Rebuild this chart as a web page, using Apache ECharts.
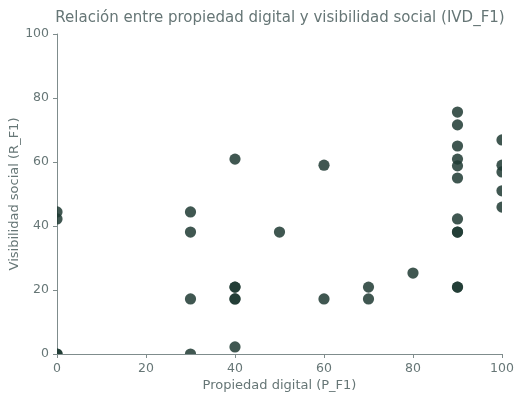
<!DOCTYPE html>
<html>
<head>
<meta charset="utf-8">
<script src="https://cdn.jsdelivr.net/npm/echarts@6/dist/echarts.min.js"></script>
<style>
html, body { margin: 0; padding: 0; background: #fff; }
#chart { width: 523px; height: 400px; }
</style>
</head>
<body>
<div id="chart"></div>
<script>
// datos
var propiedad = [0, 0, 0, 0,
    30, 30, 30, 30,
    40, 40, 40, 40, 40, 40,
    50,
    60, 60,
    70, 70,
    80,
    90, 90, 90, 90, 90, 90, 90, 90, 90, 90, 90,
    100, 100, 100, 100, 100];
var visibilidad = [44.4, 42.2, 0, 0,
    44.4, 38.1, 17.2, 0,
    60.9, 20.9, 20.9, 17.2, 17.2, 2.2,
    38.1,
    59, 17.2,
    20.9, 17.2,
    25.3,
    75.6, 71.6, 65, 60.9, 58.8, 55, 42.2, 38.1, 38.1, 20.9, 20.9,
    66.9, 59, 56.9, 51, 45.9];
var ticks = [0, 20, 40, 60, 80, 100];

var textColor = '#667676';
var axisColor = '#7f8c8c';

var puntos = propiedad.map(function (p, i) { return [p, visibilidad[i]]; });

var chart = echarts.init(document.getElementById('chart'));
chart.setOption({
    backgroundColor: '#fff',
    textStyle: { fontFamily: 'DejaVu Sans' },
    title: {
        text: 'Relación entre propiedad digital y visibilidad social (IVD_F1)',
        left: 275,
        textAlign: 'center',
        top: 6,
        textStyle: { color: textColor, fontSize: 15, fontWeight: 'normal', fontFamily: 'DejaVu Sans' }
    },
    grid: { left: 57, right: 21, top: 34, bottom: 46, containLabel: false, outerBoundsMode: 'none' },
    xAxis: {
        type: 'value',
        min: ticks[0],
        max: ticks[ticks.length - 1],
        interval: 20,
        name: 'Propiedad digital (P_F1)',
        nameLocation: 'middle',
        nameGap: 25,
        nameMoveOverlap: false,
        nameTextStyle: { color: textColor, fontSize: 13 },
        axisLine: { show: true, lineStyle: { color: axisColor, width: 1 } },
        axisTick: { show: true, length: 4, lineStyle: { color: axisColor } },
        axisLabel: { color: textColor, fontSize: 12.5, margin: 8 },
        splitLine: { show: false }
    },
    yAxis: {
        type: 'value',
        min: ticks[0],
        max: ticks[ticks.length - 1],
        interval: 20,
        name: 'Visibilidad social (R_F1)',
        nameLocation: 'middle',
        nameGap: 36,
        nameMoveOverlap: false,
        nameTextStyle: { color: textColor, fontSize: 13 },
        axisLine: { show: true, lineStyle: { color: axisColor, width: 1 } },
        axisTick: { show: true, length: 4, lineStyle: { color: axisColor } },
        axisLabel: { color: textColor, fontSize: 12.5, margin: 8 },
        splitLine: { show: false }
    },
    series: [{
        // serie custom para que los puntos del borde queden recortados
        type: 'custom',
        clip: true,
        data: puntos,
        renderItem: function (params, api) {
            var c = api.coord([api.value(0), api.value(1)]);
            return {
                type: 'circle',
                shape: { cx: c[0], cy: c[1], r: 5.6 },
                style: { fill: '#1e3a33', opacity: 0.85 }
            };
        }
    }]
});
</script>
</body>
</html>
